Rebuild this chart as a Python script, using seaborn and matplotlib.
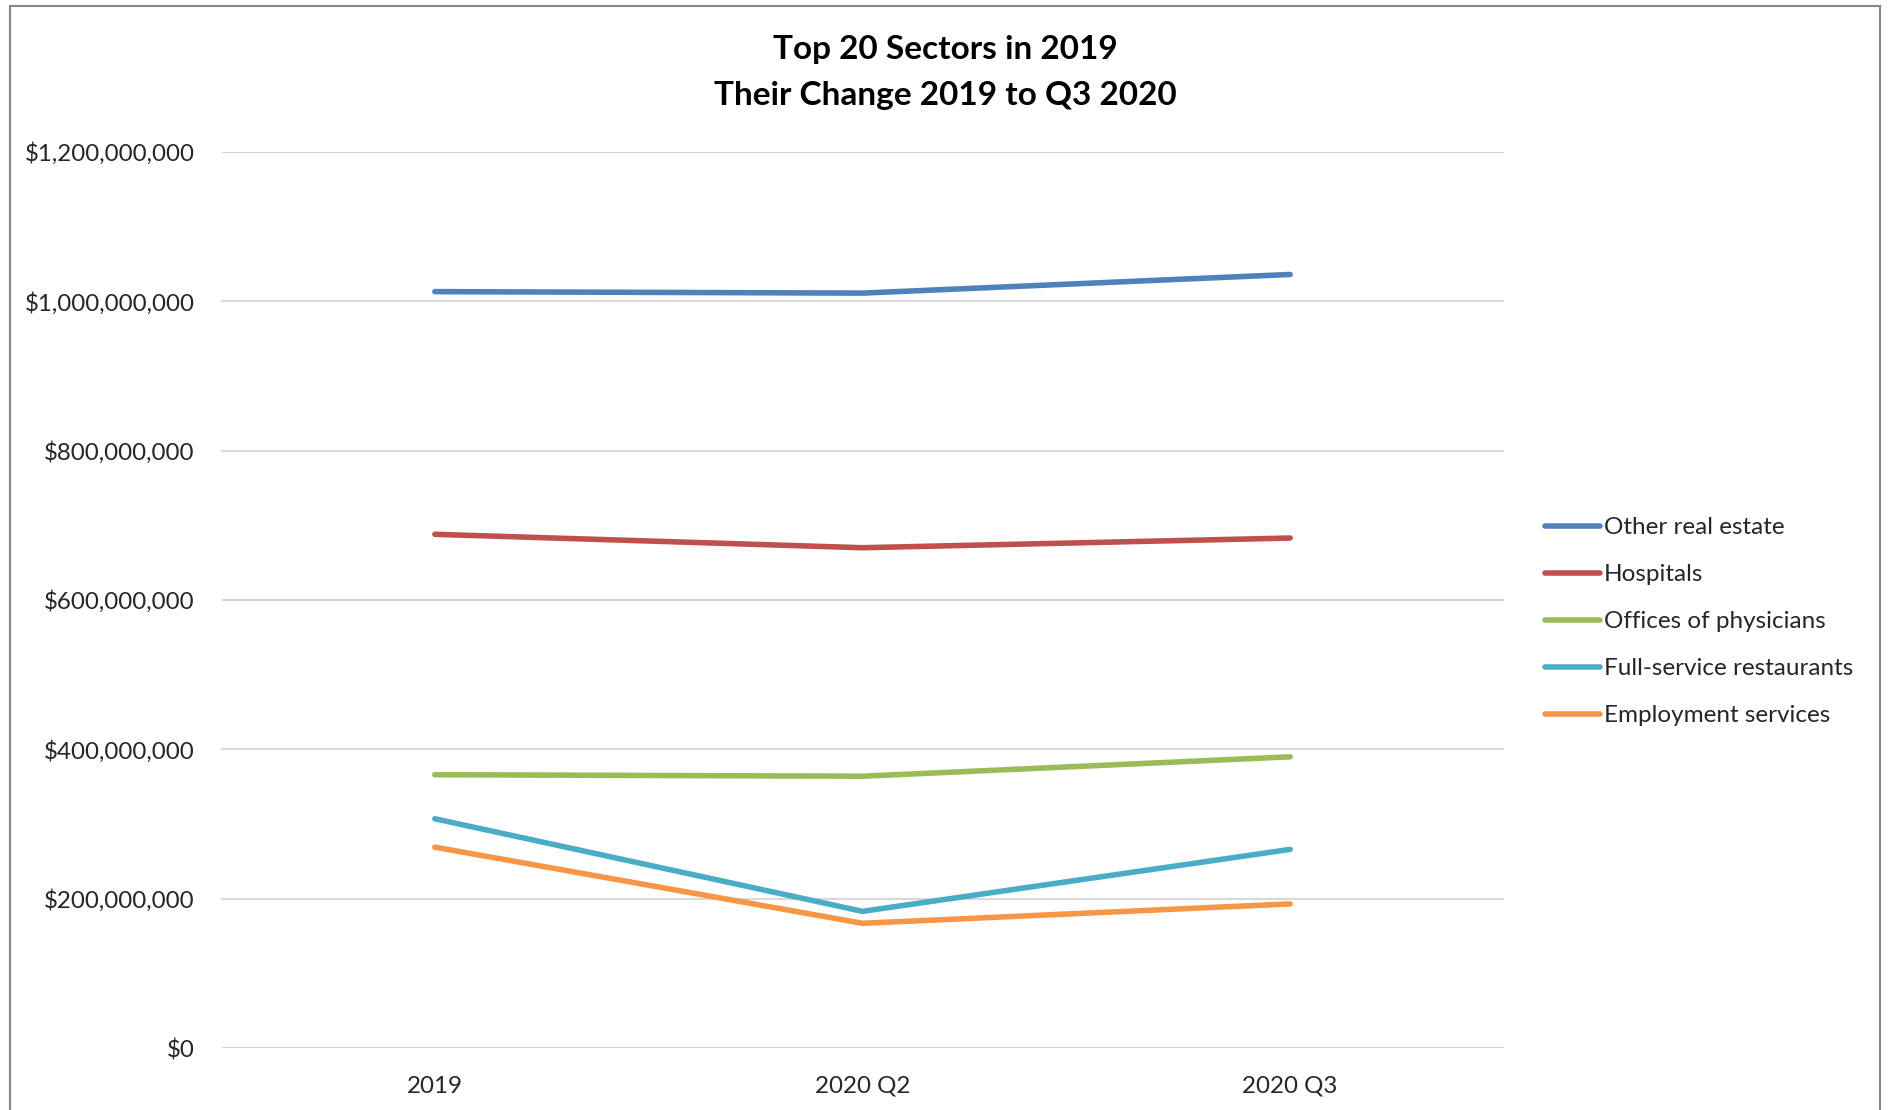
import matplotlib
matplotlib.use("Agg")
import matplotlib.pyplot as plt
import matplotlib.ticker as mticker
from matplotlib.patches import Rectangle
import seaborn as sns
import pandas as pd

periods = ["2019", "2020 Q2", "2020 Q3"]
sectors = [
    "Other real estate",
    "Hospitals",
    "Offices of physicians",
    "Full-service restaurants",
    "Employment services",
]
other_real_estate = [1013e6, 1011e6, 1036e6]
hospitals = [688e6, 670e6, 683e6]
offices_of_physicians = [366e6, 364e6, 390e6]
full_service_restaurants = [307e6, 183e6, 266e6]
employment_services = [269e6, 167e6, 193e6]
colors = ["#4F81BD", "#C0504D", "#9BBB59", "#4BACC6", "#F79646"]

series = [other_real_estate, hospitals, offices_of_physicians,
          full_service_restaurants, employment_services]
df = pd.DataFrame(
    [(p, s, v) for s, vals in zip(sectors, series) for p, v in zip(periods, vals)],
    columns=["Period", "Sector", "Value"],
)

sns.set_theme(style="white")
plt.rcParams["font.family"] = ["Lato", "DejaVu Sans"]

fig = plt.figure(figsize=(18.91, 11.10), dpi=100)
ax = fig.add_axes([221 / 1891, 62 / 1110, (1504 - 221) / 1891, (1048 - 152) / 1110])

sns.lineplot(data=df, x="Period", y="Value", hue="Sector", hue_order=sectors,
             palette=colors, sort=False, linewidth=4.0, ax=ax, legend=True,
             solid_capstyle="round", solid_joinstyle="round")

ax.set_xlim(-0.5, 2.5)
ax.set_ylim(0, 1.2e9)
ax.set_yticks([i * 200e6 for i in range(7)])
ax.yaxis.set_major_formatter(mticker.FuncFormatter(lambda v, _: f"${v:,.0f}"))
ax.grid(axis="y", color="#D9D9D9", linewidth=1.5)
ax.grid(axis="x", visible=False)
for sp in ax.spines.values():
    sp.set_visible(False)
ax.tick_params(axis="y", length=0, pad=19, labelsize=17.4, labelcolor="#262626")
ax.tick_params(axis="x", length=0, pad=20, labelsize=17.4, labelcolor="#262626")
ax.set_xlabel("")
ax.set_ylabel("")

handles, labels = ax.get_legend_handles_labels()
ax.legend_.remove()
fig.legend(handles, labels, loc="center left", bbox_to_anchor=(1545 / 1891, 0.440),
           frameon=False, fontsize=17.5, handlelength=2.25, handletextpad=0.18,
           labelspacing=1.07, borderpad=0, borderaxespad=0, labelcolor="#262626")

fig.text(0.5, 1 - 50 / 1110, "Top 20 Sectors in 2019", ha="center", va="center",
         fontsize=24, fontweight="bold", color="#000000")
fig.text(0.5, 1 - 95 / 1110, "Their Change 2019 to Q3 2020", ha="center", va="center",
         fontsize=24, fontweight="bold", color="#000000")

fig.patches.append(Rectangle((10 / 1891, -0.05), (1880 - 10) / 1891, 1.05 - 6 / 1110,
                             transform=fig.transFigure, fill=False,
                             edgecolor="#868686", linewidth=1.5))

fig.savefig("out.png", dpi=100)
